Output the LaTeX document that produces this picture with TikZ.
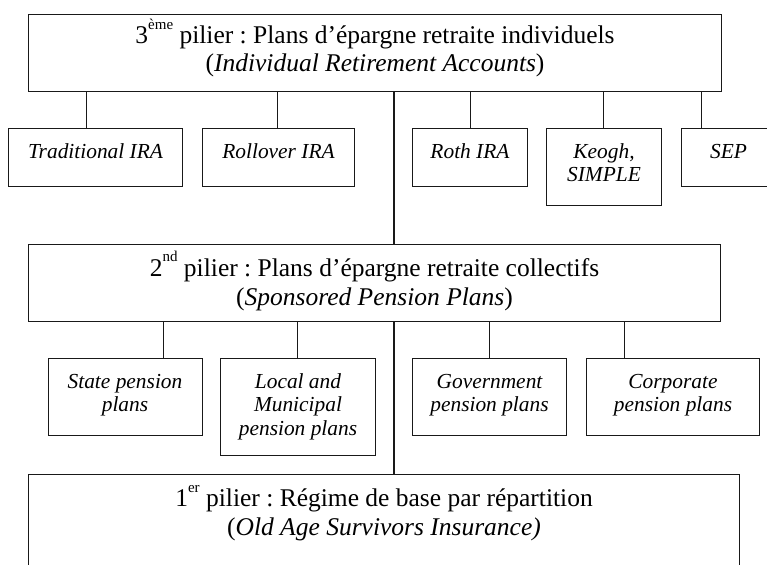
\documentclass[tikz,border=0pt]{standalone}
\usepackage{fontspec}
\setmainfont{Liberation Serif}
\frenchspacing
\newcommand\supx[1]{\raisebox{14.5pt}[0pt][0pt]{\fontsize{15}{15}\selectfont #1}}
% width, height, font size, baselineskip, top gap, content
\newcommand\boxcontent[6]{\parbox[c][#2][t]{#1}{\centering\fontsize{#3}{#4}\selectfont\vspace*{#5}\strut #6}}
\newcommand\smallbx[3]{\boxcontent{#1}{#2}{21.4}{23.5}{13.5pt}{\itshape #3}}
\begin{document}
\begin{tikzpicture}[x=1pt,y=-1pt,
  bx/.style={draw=black!90, line width=1pt, inner sep=0pt, anchor=north west},
  cn/.style={draw=black!90, line width=1pt},
  trunk/.style={draw=black!90, line width=1.2pt}]
\useasboundingbox (0,0) rectangle (767,564);
\clip (0,0) rectangle (767,564);
\fill[white] (0,0) rectangle (767,564);

% headers
\node[bx] (top) at (28,14) {\boxcontent{693pt}{77pt}{25.5}{27.5}{10.2pt}{3\supx{ème} pilier : Plans d’épargne retraite individuels\\(\textit{Individual Retirement Accounts})}};
\node[bx] (mid) at (28,244) {\boxcontent{692pt}{77pt}{25.5}{29.5}{11pt}{2\supx{nd} pilier : Plans d’épargne retraite collectifs\\(\textit{Sponsored Pension Plans})}};
\node[bx] (bot) at (28,474) {\boxcontent{711pt}{110pt}{25.5}{29}{11.7pt}{1\supx{er} pilier : Régime de base par répartition\\(\textit{Old Age Survivors Insurance)}}};

% row 1
\node[bx] (trad) at (8,128) {\smallbx{174pt}{58pt}{Traditional IRA}};
\node[bx] (roll) at (202,128) {\smallbx{152pt}{58pt}{Rollover IRA}};
\node[bx] (roth) at (412,128) {\smallbx{115pt}{58pt}{Roth IRA}};
\node[bx] (keogh) at (546,128) {\smallbx{115pt}{77pt}{Keogh,\\SIMPLE}};
\node[bx] (sep) at (681,128) {\smallbx{94pt}{58pt}{SEP}};

% row 2
\node[bx] (state) at (47.5,358) {\smallbx{154pt}{77pt}{State pension\\plans}};
\node[bx] (local) at (220,358) {\smallbx{155pt}{97pt}{Local and\\Municipal\\pension plans}};
\node[bx] (gov) at (412,358) {\smallbx{154pt}{77pt}{Government\\pension plans}};
\node[bx] (corp) at (586,358) {\smallbx{173pt}{77pt}{Corporate\\pension plans}};

% connector x positions
\coordinate (tk) at (394,0);
\coordinate (a1) at (86,0);
\coordinate (a2) at (277,0);
\coordinate (a3) at (470,0);
\coordinate (a4) at (603,0);
\coordinate (a5) at (701,0);
\coordinate (b1) at (163,0);
\coordinate (b2) at (297,0);
\coordinate (b3) at (489,0);
\coordinate (b4) at (624,0);

\draw[cn] (top.south -| a1) -- (trad.north -| a1);
\draw[cn] (top.south -| a2) -- (roll.north -| a2);
\draw[cn] (top.south -| a3) -- (roth.north -| a3);
\draw[cn] (top.south -| a4) -- (keogh.north -| a4);
\draw[cn] (top.south -| a5) -- (sep.north -| a5);

\draw[cn] (mid.south -| b1) -- (state.north -| b1);
\draw[cn] (mid.south -| b2) -- (local.north -| b2);
\draw[cn] (mid.south -| b3) -- (gov.north -| b3);
\draw[cn] (mid.south -| b4) -- (corp.north -| b4);

\draw[trunk] (top.south -| tk) -- (mid.north -| tk);
\draw[trunk] (mid.south -| tk) -- (bot.north -| tk);
\end{tikzpicture}
\end{document}
